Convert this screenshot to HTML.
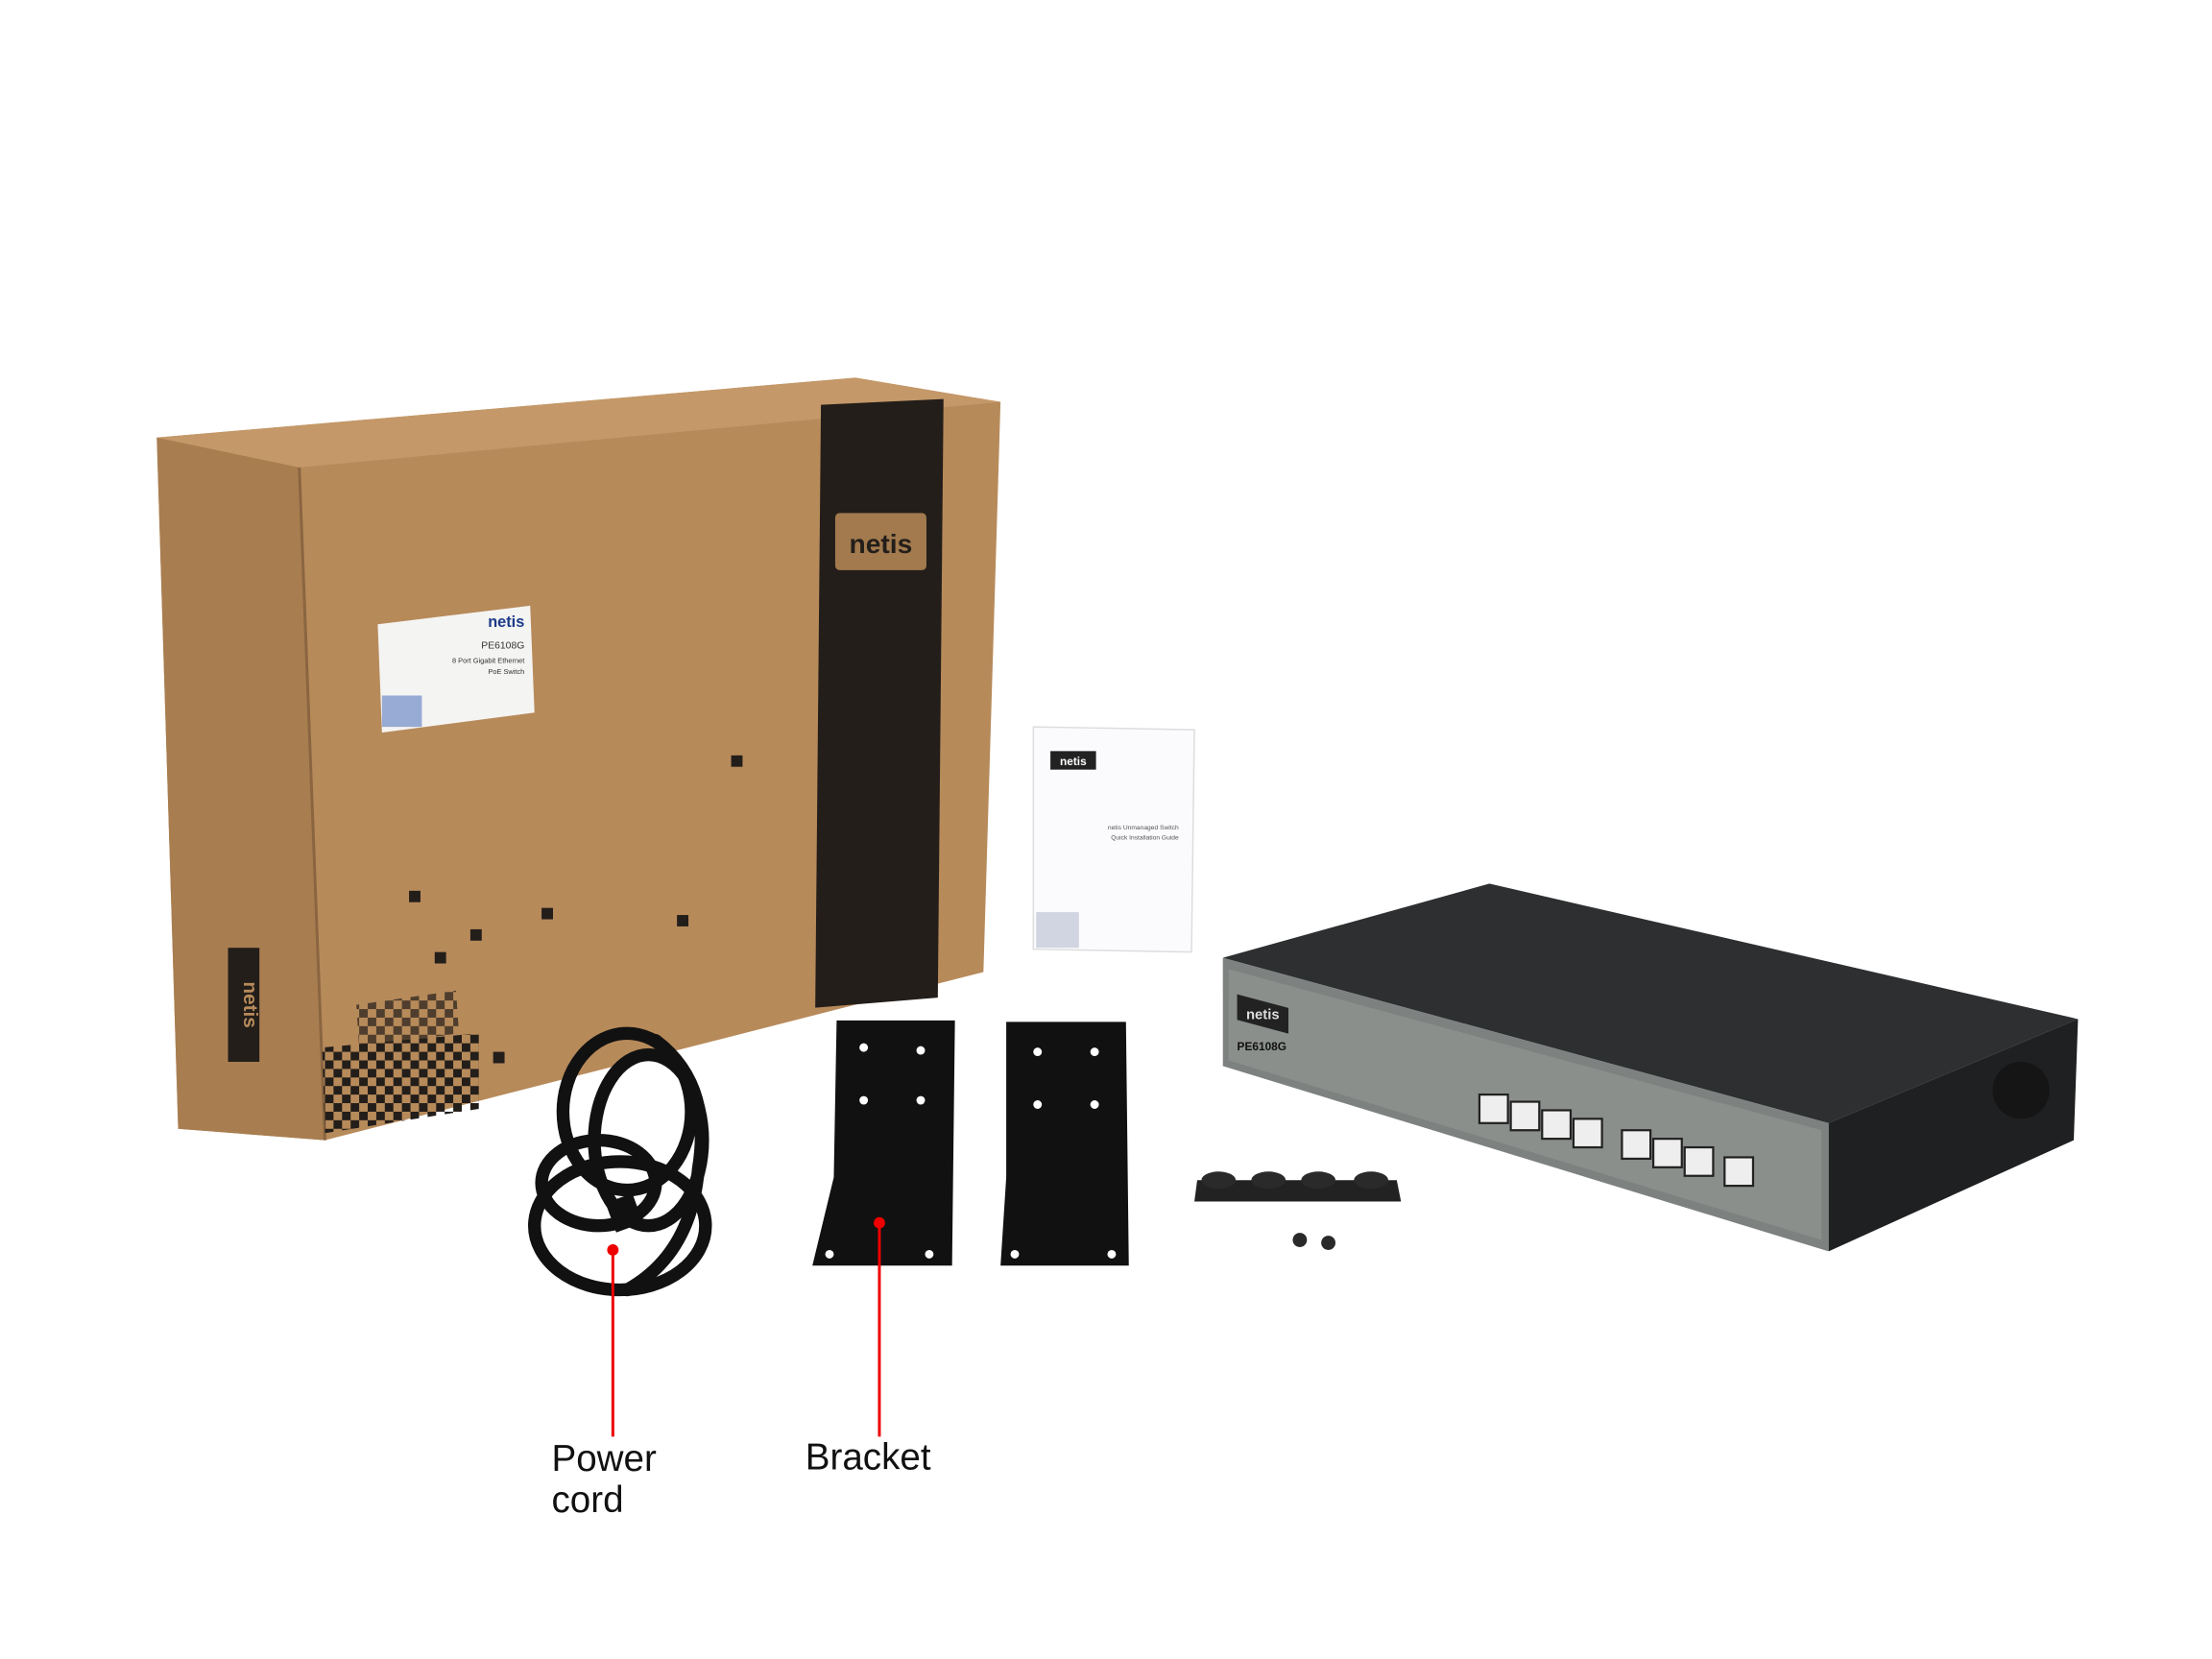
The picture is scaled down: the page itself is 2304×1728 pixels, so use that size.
<!DOCTYPE html>
<html><head><meta charset="utf-8"><style>
html,body{margin:0;padding:0;background:#fff;}
svg{display:block;}
text{font-family:"Liberation Sans",sans-serif;}
</style></head><body>
<svg width="2304" height="1728" viewBox="0 0 1552 1164" preserveAspectRatio="none" xmlns="http://www.w3.org/2000/svg">
<defs>
<pattern id="chk" width="12" height="12" patternUnits="userSpaceOnUse">
<rect width="6" height="6" fill="#231e1a"/><rect x="6" y="6" width="6" height="6" fill="#231e1a"/>
</pattern>
</defs>
<rect width="1552" height="1164" fill="#fff"/>
<!-- box -->
<polygon points="110,307 600,265 702,282 690,682 228,800 125,792" fill="#b78a5a"/>
<polygon points="110,307 210,328 228,800 125,792" fill="#a87d50"/>
<polygon points="110,307 600,265 702,282 210,328" fill="#c49868"/>
<line x1="210" y1="328" x2="228" y2="800" stroke="#8a6540" stroke-width="2"/>
<polygon points="576,284 662,280 658,700 572,707" fill="#231e1a"/>
<rect x="586" y="360" width="64" height="40" rx="3" fill="#a27a4e"/>
<text x="618" y="388" font-size="19" font-weight="bold" fill="#231e1a" text-anchor="middle" font-family="Liberation Serif">netis</text>
<polygon points="265,438 372,425 375,500 268,514" fill="#f4f4f2"/>
<text x="368" y="440" font-size="11" font-weight="bold" fill="#1d3a8a" text-anchor="end">netis</text>
<text x="368" y="455" font-size="7" fill="#333" text-anchor="end">PE6108G</text>
<text x="368" y="465" font-size="5" fill="#333" text-anchor="end">8 Port Gigabit Ethernet</text>
<text x="368" y="473" font-size="5" fill="#333" text-anchor="end">PoE Switch</text>
<rect x="268" y="488" width="28" height="22" fill="#5a7ac0" opacity="0.6"/>
<rect x="160" y="665" width="22" height="80" fill="#231e1a"/>
<text x="171" y="705" font-size="14" font-weight="bold" fill="#b78a5a" text-anchor="middle" transform="rotate(90 171 705)">netis</text>
<g fill="#231e1a">
<rect x="287" y="625" width="8" height="8"/><rect x="380" y="637" width="8" height="8"/><rect x="475" y="642" width="8" height="8"/>
<rect x="513" y="530" width="8" height="8"/><rect x="330" y="652" width="8" height="8"/><rect x="305" y="668" width="8" height="8"/>
<rect x="346" y="738" width="8" height="8"/>
</g>
<polygon points="226,735 336,725 336,778 228,795" fill="url(#chk)"/>
<polygon points="250,705 320,695 322,725 252,735" fill="url(#chk)" opacity="0.7"/>
<!-- cord -->
<g fill="none" stroke="#111" stroke-width="9" stroke-linecap="round">
<ellipse cx="440" cy="780" rx="45" ry="55"/>
<ellipse cx="435" cy="860" rx="60" ry="45"/>
<ellipse cx="420" cy="830" rx="40" ry="30"/>
<ellipse cx="455" cy="800" rx="38" ry="60"/>
<path d="M460 730 Q500 760 490 820 Q485 880 440 905"/>
</g>
<rect x="428" y="840" width="20" height="22" fill="#111" transform="rotate(-20 438 851)"/>
<!-- brackets -->
<polygon points="587,716 670,716 668,888 570,888 585,826" fill="#111"/>
<polygon points="706,717 790,717 792,888 702,888 706,826" fill="#111"/>
<g fill="#fff"><circle cx="606" cy="735" r="3"/><circle cx="646" cy="737" r="3"/><circle cx="606" cy="772" r="3"/><circle cx="646" cy="772" r="3"/>
<circle cx="728" cy="738" r="3"/><circle cx="768" cy="738" r="3"/><circle cx="728" cy="775" r="3"/><circle cx="768" cy="775" r="3"/>
<circle cx="582" cy="880" r="3"/><circle cx="652" cy="880" r="3"/><circle cx="712" cy="880" r="3"/><circle cx="780" cy="880" r="3"/></g>
<!-- booklet -->
<polygon points="725,510 838,512 836,668 725,666" fill="#fbfbfd" stroke="#ddd"/>
<rect x="737" y="527" width="32" height="13" fill="#222"/>
<text x="753" y="537" font-size="8" fill="#fff" font-weight="bold" text-anchor="middle">netis</text>
<text x="827" y="582" font-size="4.5" fill="#555" text-anchor="end">netis Unmanaged Switch</text>
<text x="827" y="589" font-size="4.5" fill="#555" text-anchor="end">Quick Installation Guide</text>
<rect x="727" y="640" width="30" height="25" fill="#a8b0c8" opacity="0.5"/>
<!-- feet -->
<polygon points="840,828 980,828 983,843 838,843" fill="#222"/>
<g fill="#2a2a2a"><ellipse cx="855" cy="828" rx="12" ry="6"/><ellipse cx="890" cy="828" rx="12" ry="6"/><ellipse cx="925" cy="828" rx="12" ry="6"/><ellipse cx="962" cy="828" rx="12" ry="6"/>
<circle cx="912" cy="870" r="5"/><circle cx="932" cy="872" r="5"/></g>
<!-- switch -->
<polygon points="858,672 1045,620 1458,715 1283,788" fill="#2d2f31"/>
<polygon points="1283,788 1458,715 1455,800 1283,878" fill="#1f2022"/>
<polygon points="858,672 1283,788 1283,878 858,748" fill="#7d817f"/>
<polygon points="862,680 1278,793 1278,870 862,744" fill="#8b8f8c"/>
<rect x="868" y="698" width="36" height="18" fill="#222" transform="skewY(15) translate(0,-233)"/>
<text x="886" y="715" font-size="10" font-weight="bold" fill="#ddd" text-anchor="middle">netis</text>
<text x="868" y="737" font-size="8" font-weight="bold" fill="#111">PE6108G</text>
<g fill="#eee" stroke="#222" stroke-width="1.5">
<rect x="1038" y="768" width="20" height="20"/><rect x="1060" y="773" width="20" height="20"/><rect x="1082" y="779" width="20" height="20"/><rect x="1104" y="785" width="20" height="20"/>
<rect x="1138" y="793" width="20" height="20"/><rect x="1160" y="799" width="20" height="20"/><rect x="1182" y="805" width="20" height="20"/><rect x="1210" y="812" width="20" height="20"/>
</g>
<circle cx="1418" cy="765" r="20" fill="#151515"/>
<!-- callouts -->
<g stroke="#e00" stroke-width="2"><line x1="430" y1="877" x2="430" y2="1008"/><line x1="617" y1="858" x2="617" y2="1008"/></g>
<circle cx="430" cy="877" r="4" fill="#e00"/><circle cx="617" cy="858" r="4" fill="#e00"/>
<text x="387" y="1032" font-size="26" fill="#111">Power</text>
<text x="387" y="1061" font-size="26" fill="#111">cord</text>
<text x="565" y="1031" font-size="26" fill="#111">Bracket</text>
</svg>
</body></html>
